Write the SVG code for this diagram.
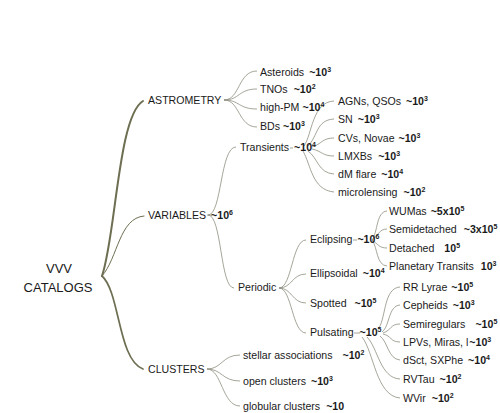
<svg xmlns="http://www.w3.org/2000/svg" width="500" height="413" viewBox="0 0 500 413">
<style>
.t{font-family:"Liberation Sans",Arial,sans-serif;font-size:10.6px;fill:#1a1a1a}
.r{font-size:13px}
.n{font-weight:bold}
.s{font-weight:bold;font-size:7px}
.e{fill:none;stroke:#8e8e80;stroke-width:0.8}
.m{fill:none;stroke:#6e6e52;stroke-linecap:round}
</style>
<rect width="500" height="413" fill="#ffffff"/>
<g id="connectors">
<path class="m" stroke-width="2" d="M102,276 C116,235 118,116 143,101"/>
<path class="m" stroke-width="1" d="M102,276 C118,258 119,218 144,216"/>
<path class="m" stroke-width="1.7" d="M102,276 C120,292 118,360 143,369"/>
<path class="e" d="M224,100 C240,100 238,71 257,71"/>
<path class="e" d="M224,100 C240,100 238,89 257,89"/>
<path class="e" d="M224,100 C240,100 238,109 257,109"/>
<path class="e" d="M224,100 C240,100 238,127 257,127"/>
<path class="e" d="M207,215 L212,215"/>
<path class="e" d="M208,215 C222,215 220,147 236,147"/>
<path class="e" d="M208,215 C222,215 220,288 234,288"/>
<path class="e" d="M290,148 L293,148"/>
<path class="e" d="M304,146 C312,135 312,102 334,101"/>
<path class="e" d="M308,146 C318,136 316,120 334,119"/>
<path class="e" d="M312,147 C322,144 322,138 334,138"/>
<path class="e" d="M312,149 C322,151 322,156 334,156"/>
<path class="e" d="M308,151 C318,158 318,173 334,174"/>
<path class="e" d="M303,151 C311,165 312,190 334,192"/>
<path class="e" d="M279,288 C292,288 292,240 306,240"/>
<path class="e" d="M279,288 C292,288 292,274 306,274"/>
<path class="e" d="M279,288 C292,288 292,303 306,303"/>
<path class="e" d="M279,288 C292,288 292,333 306,333"/>
<path class="e" d="M353,240 L357,240"/>
<path class="e" d="M372,240 C378,232 376,212 387,211"/>
<path class="e" d="M372,240 C378,236 379,229 387,229"/>
<path class="e" d="M372,240 C378,244 379,248 387,248"/>
<path class="e" d="M372,240 C378,248 376,265 387,266"/>
<path class="e" d="M354,333 L360,333"/>
<path class="e" d="M379,328 C386,316 384,288 400,287"/>
<path class="e" d="M382,332 C390,326 388,306 400,305"/>
<path class="e" d="M383,333 C392,330 390,324 400,324"/>
<path class="e" d="M383,334 C392,336 390,342 400,342"/>
<path class="e" d="M380,336 C388,342 388,359 400,360"/>
<path class="e" d="M367,337 C378,348 380,378 400,379"/>
<path class="e" d="M362,337 C374,352 376,396 400,398"/>
<path class="e" d="M207,369 C222,369 222,355 240,355"/>
<path class="e" d="M207,369 C222,369 222,381 240,381"/>
<path class="e" d="M207,369 C222,369 222,406 240,406"/>
</g>
<g id="root"><text class="t r" x="59" y="272.7" text-anchor="middle">VVV</text><text class="t r" x="58" y="291.7" text-anchor="middle">CATALOGS</text></g>
<g id="astrometry"><text class="t" x="148" y="103.8">ASTROMETRY</text></g>
<g id="variables"><text class="t" x="148" y="218.8">VARIABLES<tspan class="n" dx="5">~10</tspan><tspan class="s" dy="-4">6</tspan></text></g>
<g id="clusters"><text class="t" x="148" y="372.8">CLUSTERS</text></g>
<g id="asteroids"><text class="t" x="260" y="75.8">Asteroids<tspan class="n" dx="5">~10</tspan><tspan class="s" dy="-4">3</tspan></text></g>
<g id="tnos"><text class="t" x="260" y="92.8">TNOs<tspan class="n" dx="6">~10</tspan><tspan class="s" dy="-4">2</tspan></text></g>
<g id="highpm"><text class="t" x="260" y="110.8">high-PM<tspan class="n" dx="3">~10</tspan><tspan class="s" dy="-4">4</tspan></text></g>
<g id="bds"><text class="t" x="260" y="129.8">BDs<tspan class="n" dx="3">~10</tspan><tspan class="s" dy="-4">3</tspan></text></g>
<g id="transients"><text class="t" x="240" y="150.8">Transients<tspan class="n" dx="5">~10</tspan><tspan class="s" dy="-4">4</tspan></text></g>
<g id="agns"><text class="t" x="338" y="104.8">AGNs, QSOs<tspan class="n" dx="5">~10</tspan><tspan class="s" dy="-4">3</tspan></text></g>
<g id="sn"><text class="t" x="338" y="122.8">SN<tspan class="n" dx="5">~10</tspan><tspan class="s" dy="-4">3</tspan></text></g>
<g id="cvs"><text class="t" x="338" y="141.8">CVs, Novae<tspan class="n" dx="4">~10</tspan><tspan class="s" dy="-4">3</tspan></text></g>
<g id="lmxbs"><text class="t" x="338" y="159.8">LMXBs<tspan class="n" dx="6">~10</tspan><tspan class="s" dy="-4">3</tspan></text></g>
<g id="dmflare"><text class="t" x="338" y="177.8">dM flare<tspan class="n" dx="5">~10</tspan><tspan class="s" dy="-4">4</tspan></text></g>
<g id="microlensing"><text class="t" x="338" y="195.8">microlensing<tspan class="n" dx="6">~10</tspan><tspan class="s" dy="-4">2</tspan></text></g>
<g id="periodic"><text class="t" x="238" y="290.8">Periodic</text></g>
<g id="eclipsing"><text class="t" x="310" y="242.8">Eclipsing<tspan class="n" dx="5">~10</tspan><tspan class="s" dy="-4">6</tspan></text></g>
<g id="ellipsoidal"><text class="t" x="310" y="276.8">Ellipsoidal<tspan class="n" dx="5">~10</tspan><tspan class="s" dy="-4">4</tspan></text></g>
<g id="spotted"><text class="t" x="310" y="306.8">Spotted<tspan class="n" dx="8">~10</tspan><tspan class="s" dy="-4">5</tspan></text></g>
<g id="pulsating"><text class="t" x="310" y="335.8">Pulsating<tspan class="n" dx="6">~10</tspan><tspan class="s" dy="-4">5</tspan></text></g>
<g id="wumas"><text class="t" x="389" y="214.8">WUMas<tspan class="n" dx="4">~5x10</tspan><tspan class="s" dy="-4">5</tspan></text></g>
<g id="semidetached"><text class="t" x="389" y="232.8">Semidetached<tspan class="n" dx="7">~3x10</tspan><tspan class="s" dy="-4">5</tspan></text></g>
<g id="detached"><text class="t" x="389" y="251.8">Detached<tspan class="n" dx="10">10</tspan><tspan class="s" dy="-4">5</tspan></text></g>
<g id="planetary"><text class="t" x="389" y="269.8">Planetary Transits<tspan class="n" dx="7">10</tspan><tspan class="s" dy="-4">3</tspan></text></g>
<g id="rrlyrae"><text class="t" x="403" y="290.8">RR Lyrae<tspan class="n" dx="4">~10</tspan><tspan class="s" dy="-4">5</tspan></text></g>
<g id="cepheids"><text class="t" x="403" y="308.8">Cepheids<tspan class="n" dx="5">~10</tspan><tspan class="s" dy="-4">3</tspan></text></g>
<g id="semiregulars"><text class="t" x="403" y="327.8">Semiregulars<tspan class="n" dx="10">~10</tspan><tspan class="s" dy="-4">5</tspan></text></g>
<g id="lpvs"><text class="t" x="403" y="345.8">LPVs, Miras, l<tspan class="n" dx="1">~10</tspan><tspan class="s" dy="-4">3</tspan></text></g>
<g id="dsct"><text class="t" x="403" y="363.8">dSct, SXPhe<tspan class="n" dx="5">~10</tspan><tspan class="s" dy="-4">4</tspan></text></g>
<g id="rvtau"><text class="t" x="403" y="382.8">RVTau<tspan class="n" dx="5">~10</tspan><tspan class="s" dy="-4">2</tspan></text></g>
<g id="wvir"><text class="t" x="403" y="401.8">WVir<tspan class="n" dx="6">~10</tspan><tspan class="s" dy="-4">2</tspan></text></g>
<g id="stellar"><text class="t" x="243" y="358.8">stellar associations<tspan class="n" dx="10">~10</tspan><tspan class="s" dy="-4">2</tspan></text></g>
<g id="open"><text class="t" x="243" y="384.8">open clusters<tspan class="n" dx="5">~10</tspan><tspan class="s" dy="-4">3</tspan></text></g>
<g id="globular"><text class="t" x="243" y="409.8">globular clusters<tspan class="n" dx="6">~10</tspan></text></g>
</svg>
